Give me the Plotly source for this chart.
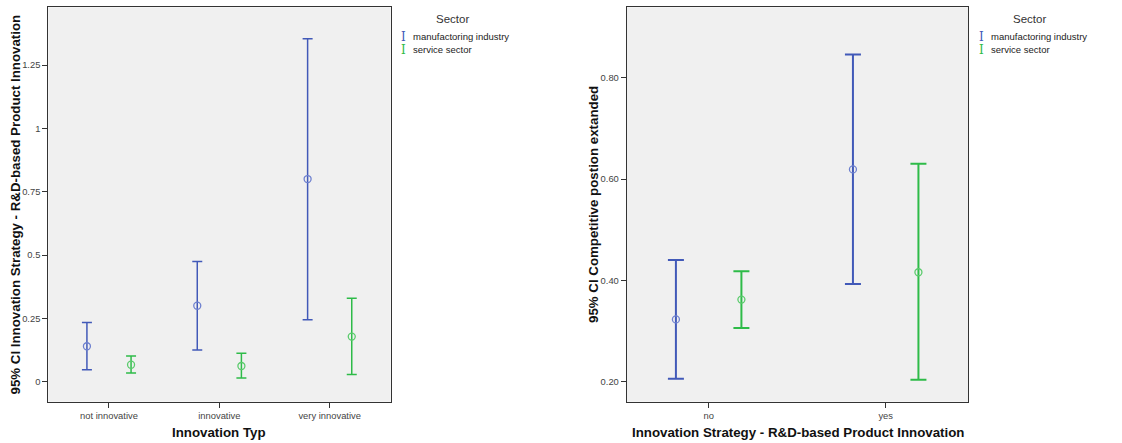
import plotly.graph_objects as go

# ---- data: left panel ----
left_categories = ["not innovative", "innovative", "very innovative"]
left_manuf_mean = [0.140, 0.300, 0.800]
left_manuf_upper = [0.234, 0.474, 1.354]
left_manuf_lower = [0.047, 0.125, 0.245]
left_serv_mean = [0.067, 0.062, 0.178]
left_serv_upper = [0.101, 0.112, 0.329]
left_serv_lower = [0.034, 0.015, 0.028]

# ---- data: right panel ----
right_categories = ["no", "yes"]
right_manuf_mean = [0.323, 0.619]
right_manuf_upper = [0.440, 0.846]
right_manuf_lower = [0.206, 0.393]
right_serv_mean = [0.362, 0.416]
right_serv_upper = [0.418, 0.630]
right_serv_lower = [0.306, 0.204]

series_names = ["manufactoring industry", "service sector"]
left_yticks = [0, 0.25, 0.5, 0.75, 1, 1.25]
left_yticktext = ["0", "0.25", "0.5", "0.75", "1", "1.25"]
right_yticks = [0.2, 0.4, 0.6, 0.8]
right_yticktext = ["0.20", "0.40", "0.60", "0.80"]

left_xtitle = "Innovation Typ"
left_ytitle = "95% CI Innovation Strategy - R&D-based Product Innovation"
right_xtitle = "Innovation Strategy - R&D-based Product Innovation"
right_ytitle = "95% CI Competitive postion extanded"
legend_title = "Sector"

BLUE = "#4159B8"
BLUE_M = "#6E80CF"
GREEN = "#2EBB48"
GREEN_M = "#5ACB6C"
FONT = "Arial, Liberation Sans"

fig = go.Figure()


def add_series(means, upper, lower, offset, color, mcolor, name, xaxis, yaxis, capw, thick):
    xs = [i + offset for i in range(len(means))]
    fig.add_trace(go.Scatter(
        x=xs, y=means, mode="markers", name=name, showlegend=False,
        xaxis=xaxis, yaxis=yaxis,
        marker=dict(symbol="circle-open", size=7, color=mcolor, line=dict(width=1.3, color=mcolor)),
        error_y=dict(type="data", symmetric=False,
                     array=[u - m for u, m in zip(upper, means)],
                     arrayminus=[m - l for m, l in zip(means, lower)],
                     color=color, thickness=thick, width=capw),
    ))


add_series(left_manuf_mean, left_manuf_upper, left_manuf_lower, -0.2, BLUE, BLUE_M, series_names[0], "x", "y", 5, 1.5)
add_series(left_serv_mean, left_serv_upper, left_serv_lower, 0.2, GREEN, GREEN_M, series_names[1], "x", "y", 5, 1.5)
add_series(right_manuf_mean, right_manuf_upper, right_manuf_lower, -0.185, BLUE, BLUE_M, series_names[0], "x2", "y2", 8, 2)
add_series(right_serv_mean, right_serv_upper, right_serv_lower, 0.185, GREEN, GREEN_M, series_names[1], "x2", "y2", 8, 2)

axis_common = dict(showgrid=False, zeroline=False, showline=True, mirror=True,
                   linecolor="#333333", linewidth=1, ticks="outside", ticklen=5,
                   tickcolor="#333333", tickfont=dict(family=FONT, size=9.4, color="#444444"))

W, H = 1122, 443
ydom = [41.3 / H, 435.7 / H]

fig.update_layout(
    width=W, height=H,
    margin=dict(l=0, r=0, t=0, b=0),
    paper_bgcolor="white", plot_bgcolor="#F0F0F0",
    showlegend=False,
    xaxis=dict(domain=[48.3 / W, 390.7 / W], range=[-0.55, 2.553],
               tickvals=list(range(len(left_categories))), ticktext=left_categories, **axis_common),
    yaxis=dict(domain=ydom, range=[-0.079, 1.478], tickvals=left_yticks, ticktext=left_yticktext,
               anchor="x", **axis_common),
    xaxis2=dict(domain=[626.7 / W, 968 / W], range=[-0.463, 1.465],
                tickvals=list(range(len(right_categories))), ticktext=right_categories,
                anchor="y2", **axis_common),
    yaxis2=dict(domain=ydom, range=[0.1605, 0.939], tickvals=right_yticks, ticktext=right_yticktext,
                anchor="x2", **axis_common),
)

title_font = dict(family=FONT, size=13.3, color="#111111")
# axis titles
for txt, px, py, ang in [(left_xtitle, 219.5, 432, 0), (right_xtitle, 797.5, 432, 0),
                         (left_ytitle, 15, 204.5, -90), (right_ytitle, 593.5, 204.5, -90)]:
    fig.add_annotation(x=px / W, y=1 - py / H, xref="paper", yref="paper", text="<b>" + txt + "</b>",
                       showarrow=False, xanchor="center", yanchor="middle", textangle=ang,
                       font=title_font)

# legends drawn as text annotations
legend_specs = [(403.5, 452.5), (981.5, 1029.5)]
for sx, tx in legend_specs:
    fig.add_annotation(x=tx / W, y=1 - 19 / H, xref="paper", yref="paper", text=legend_title,
                       showarrow=False, xanchor="center", yanchor="middle",
                       font=dict(family=FONT, size=11.5, color="#333333"))
    for j, (nm, col) in enumerate(zip(series_names, [BLUE, GREEN])):
        yy = 1 - (37 + 13 * j) / H
        fig.add_annotation(x=sx / W, y=yy, xref="paper", yref="paper", text="I",
                           showarrow=False, xanchor="center", yanchor="middle",
                           font=dict(family="DejaVu Serif", size=12, color=col))
        fig.add_annotation(x=(sx + 7.5) / W, y=yy, xref="paper", yref="paper", text=nm,
                           showarrow=False, xanchor="left", yanchor="middle",
                           font=dict(family=FONT, size=9.5, color="#222222"))

fig.write_html("out.html", config={"displayModeBar": False},
               post_script="document.body.style.margin='0';document.body.style.overflow='hidden';")
